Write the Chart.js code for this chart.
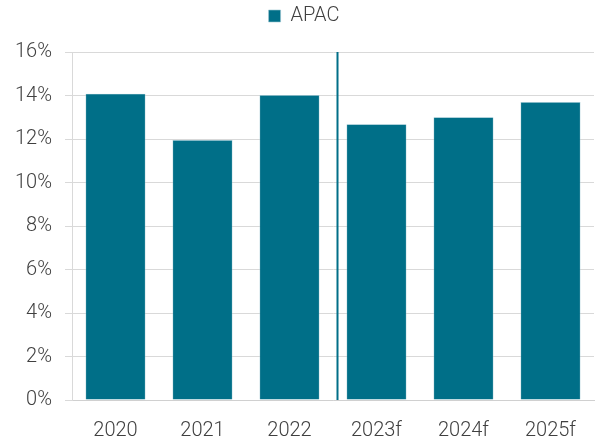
<!DOCTYPE html>
<html>
<head>
<meta charset="utf-8">
<script src="https://cdn.jsdelivr.net/npm/chart.js@4"></script>
<style>
  html, body { margin: 0; padding: 0; background: #fff; }
  #wrap { width: 598px; height: 442px; }
</style>
</head>
<body>
<div id="wrap"><canvas id="chart"></canvas></div>
<script>
// growth by year, actuals then forecasts
const years = ['2020', '2021', '2022', '2023f', '2024f', '2025f'];
const apacGrowth = [14.08, 11.95, 14.02, 12.68, 13.0, 13.7];
const yTicks = [0, 2, 4, 6, 8, 10, 12, 14, 16];
// divider between actuals and forecasts, in category units
const forecastStart = 2.55;

const TEAL = '#006F88';
const TEXT = '#404040';
const FONT = 'Roboto';

const dividerLine = {
  id: 'dividerLine',
  afterDatasetsDraw(chart) {
    const { ctx, chartArea, scales } = chart;
    const x = Math.round(scales.x.getPixelForValue(forecastStart)) + 0.5;
    ctx.save();
    ctx.strokeStyle = TEAL;
    ctx.lineWidth = 2;
    ctx.beginPath();
    ctx.moveTo(x, chartArea.top);
    ctx.lineTo(x, chartArea.bottom);
    ctx.stroke();
    ctx.restore();
  }
};

// extra room under the legend, and nudge it right a little
const legendSpacing = {
  id: 'legendSpacing',
  beforeInit(chart) {
    const fit = chart.legend.fit;
    chart.legend.fit = function () {
      fit.bind(chart.legend)();
      this.height += 16;
    };
  },
  afterLayout(chart) {
    chart.legend.left += 7;
    chart.legend.right += 7;
  }
};

new Chart(document.getElementById('chart'), {
  type: 'bar',
  data: {
    labels: years,
    datasets: [{
      label: 'APAC',
      data: apacGrowth,
      backgroundColor: TEAL,
      borderColor: '#9cc6d2',
      borderWidth: 0.6,
      categoryPercentage: 1,
      barPercentage: 0.69
    }]
  },
  options: {
    responsive: true,
    maintainAspectRatio: false,
    animation: false,
    layout: { padding: { left: 0, right: 4, top: 2, bottom: 0 } },
    plugins: {
      legend: {
        position: 'top',
        labels: {
          color: TEXT,
          font: { family: FONT, size: 20, weight: 300 },
          boxWidth: 12,
          boxHeight: 12,
          padding: 4
        },
        onClick: null
      },
      tooltip: { enabled: false }
    },
    scales: {
      x: {
        afterFit(scale) {
          scale.height = 42;
        },
        grid: { display: false, drawTicks: false },
        border: { color: '#d0d0d0', width: 1 },
        ticks: {
          color: TEXT,
          font: { family: FONT, size: 20, weight: 300 },
          padding: 19
        }
      },
      y: {
        min: 0,
        max: 16,
        afterBuildTicks(scale) {
          scale.ticks = yTicks.map(v => ({ value: v }));
        },
        afterFit(scale) {
          scale.width = 72;
        },
        grid: { color: '#d9d9d9', tickLength: 7, lineWidth: 1 },
        border: { color: '#d9d9d9', width: 1 },
        ticks: {
          color: TEXT,
          font: { family: FONT, size: 20, weight: 300 },
          padding: 13,
          callback: v => v + '%'
        }
      }
    }
  },
  plugins: [dividerLine, legendSpacing]
});
</script>
</body>
</html>
